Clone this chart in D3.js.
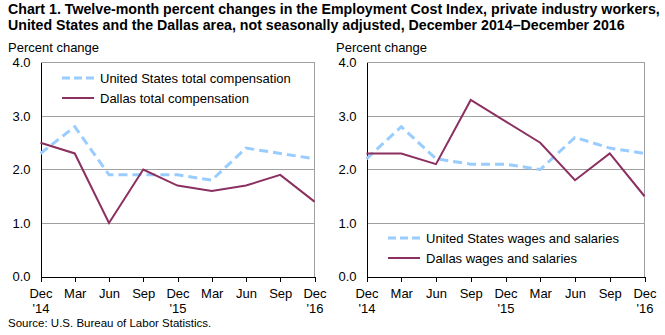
<!DOCTYPE html>
<html><head><meta charset="utf-8">
<script src="https://cdn.jsdelivr.net/npm/d3@7"></script>
<style>
body{margin:0;background:#fff;}
text{font-family:Arial,"Liberation Sans",sans-serif;}
</style></head>
<body><svg id="c" width="665" height="335"></svg>
<script>
const categories = ["Dec '14","Mar","Jun","Sep","Dec '15","Mar","Jun","Sep","Dec '16"];
const yTicks = [0,1,2,3,4];
const usTotal = [2.3,2.8,1.9,1.9,1.9,1.8,2.4,2.3,2.2];
const dallasTotal = [2.5,2.3,1.0,2.0,1.7,1.6,1.7,1.9,1.4];
const usWages = [2.2,2.8,2.2,2.1,2.1,2.0,2.6,2.4,2.3];
const dallasWages = [2.3,2.3,2.1,3.3,2.9,2.5,1.8,2.3,1.5];
const titleLines = ["Chart 1. Twelve-month percent changes in the Employment Cost  Index, private industry  workers,",
  "United  States and the Dallas area, not seasonally  adjusted, December 2014\u2013December 2016"];

const svg = d3.select("#c");
const blue = "#99ccff", plum = "#8b3060";
const narrow = "'Liberation Sans Narrow','Arial Narrow',Arial,sans-serif";
const fs = 13;

svg.selectAll("text.title").data(titleLines).join("text")
  .attr("x",8).attr("y",14+0).attr("y",(d,i)=>14+i*16)
  .attr("font-family",narrow).attr("font-weight","bold").attr("font-size",14.2).attr("fill","#000")
  .text(d=>d);

svg.append("text").attr("x",8).attr("y",327).attr("font-family",narrow).attr("font-size",11.5).text("Source: U.S. Bureau of Labor Statistics.");

function panel(x0,x1,us,dal,legY,legX,usLabel,dalLabel,labelX){
  const y = d3.scaleLinear().domain([0,4]).range([276.5,62.5]);
  const x = d3.scalePoint().domain(d3.range(categories.length)).range([x0,x1]);
  const g = svg.append("g");
  g.append("text").attr("x",labelX).attr("y",52).attr("font-size",fs).attr("fill","#000").text("Percent change");
  g.selectAll("line.grid").data(yTicks.filter(t=>t>0)).join("line")
    .attr("x1",x0).attr("x2",x1).attr("y1",d=>y(d)).attr("y2",d=>y(d))
    .attr("stroke","#a0a0a0").attr("stroke-width",1).attr("shape-rendering","crispEdges");
  g.append("line").attr("x1",x1).attr("x2",x1).attr("y1",y(4)).attr("y2",y(0))
    .attr("stroke","#a0a0a0").attr("shape-rendering","crispEdges");
  const ya = g.append("g").attr("transform",`translate(${x0},0)`)
    .call(d3.axisLeft(y).tickValues(yTicks).tickFormat(d3.format(".1f")).tickSize(0).tickPadding(10));
  ya.select(".domain").attr("stroke","#000").attr("shape-rendering","crispEdges");
  ya.selectAll("text").attr("font-size",fs).attr("fill","#000").attr("font-family","Arial,'Liberation Sans',sans-serif");
  const xa = g.append("g").attr("transform",`translate(0,${y(0)})`)
    .call(d3.axisBottom(x).tickSize(5).tickSizeOuter(0).tickFormat(()=>""));
  xa.select(".domain").attr("stroke","#000").attr("shape-rendering","crispEdges");
  xa.selectAll(".tick line").attr("stroke","#000").attr("shape-rendering","crispEdges");
  xa.selectAll(".tick").each(function(d){
    const parts = categories[d].split(" ");
    const t = d3.select(this);
    t.append("text").attr("y",21).attr("text-anchor","middle").attr("fill","#000")
      .attr("font-size",fs).attr("font-family","Arial,'Liberation Sans',sans-serif").text(parts[0]);
    if(parts[1]) t.append("text").attr("y",36).attr("text-anchor","middle").attr("fill","#000")
      .attr("font-size",fs).attr("font-family","Arial,'Liberation Sans',sans-serif").text(parts[1]);
  });
  const line = d3.line().x((d,i)=>x(i)).y(d=>y(d));
  g.append("path").datum(us).attr("d",line).attr("fill","none").attr("stroke",blue)
    .attr("stroke-width",3).attr("stroke-dasharray","9,5");
  g.append("path").datum(dal).attr("d",line).attr("fill","none").attr("stroke",plum)
    .attr("stroke-width",2);
  const lg = g.append("g");
  lg.append("line").attr("x1",legX).attr("x2",legX+32).attr("y1",legY).attr("y2",legY)
    .attr("stroke",blue).attr("stroke-width",3).attr("stroke-dasharray","8,4");
  lg.append("line").attr("x1",legX).attr("x2",legX+32).attr("y1",legY+20).attr("y2",legY+20)
    .attr("stroke",plum).attr("stroke-width",2);
  lg.append("text").attr("x",legX+38).attr("y",legY+4.5).attr("font-size",fs).text(usLabel);
  lg.append("text").attr("x",legX+38).attr("y",legY+24.5).attr("font-size",fs).text(dalLabel);
}
panel(40.5,314.5,usTotal,dallasTotal,78,62,"United States total compensation","Dallas total compensation",8);
panel(366.5,644.5,usWages,dallasWages,238,388,"United States wages and salaries","Dallas wages and salaries",336);
</script></body></html>
